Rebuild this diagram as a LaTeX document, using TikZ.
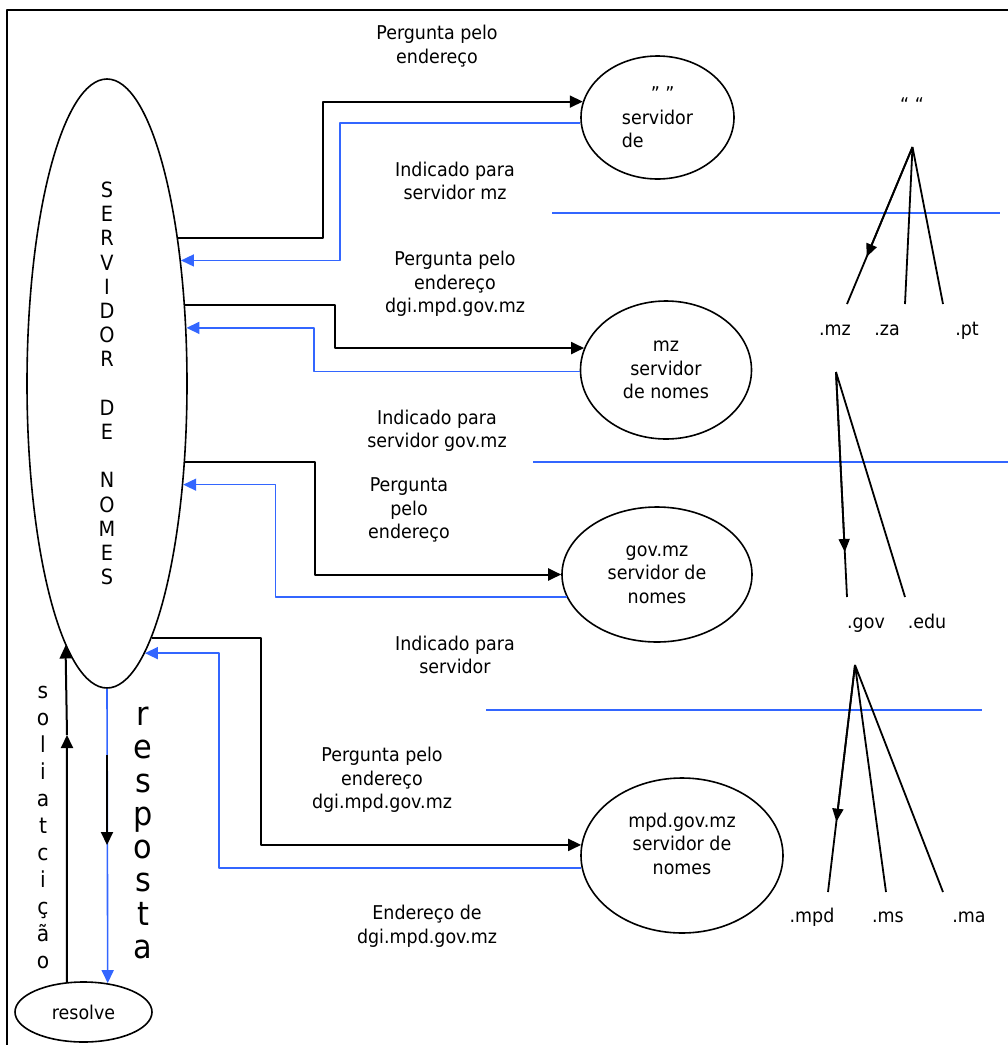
\documentclass[tikz,border=0pt]{standalone}
\usepackage{fontspec}
\setmainfont{DejaVu Sans}[FakeStretch=0.92]
\usetikzlibrary{shapes.geometric,arrows.meta,calc}
\definecolor{lineblue}{RGB}{51,102,255}
\tikzset{
  srvell/.style={draw,ellipse,line width=1.6pt,inner sep=0pt,align=center},
  ask/.style={draw=black,line width=2pt,-{Triangle[length=13pt,width=12pt]}},
  answer/.style={draw=lineblue,line width=1.6pt,-{Triangle[length=13pt,width=12pt]}},
  txt/.style={align=center,font=\fontsize{19}{23.5}\selectfont},
  dom/.style={anchor=base,font=\fontsize{19}{23.5}\selectfont},
  branch/.style={line width=1.8pt},
  sep/.style={draw=lineblue,line width=1.6pt}
}
\begin{document}
\begin{tikzpicture}[x=1pt,y=-1pt,line join=round]
\clip (0,0) rectangle (1008,1045);
\draw[line width=2pt] (7,10) rectangle (1020,1060);

% servidor de nomes local
\node[srvell,minimum width=160pt,minimum height=609pt,font=\fontsize{21}{24.2}\selectfont] (srv) at (107,383.5)
  {S\\E\\R\\V\\I\\D\\O\\R\\[24.2pt]D\\E\\[24.2pt]N\\O\\M\\E\\S};
\node[srvell,txt,minimum width=137pt,minimum height=60pt] (res) at (83.5,1012) {resolve};

% servidores consultados
\node[srvell,txt,align=left,minimum width=153pt,minimum height=123pt] (e1) at (657.5,117.5) {\hspace*{29pt}" "\\servidor\hspace*{10pt}\\de};
\node[srvell,txt,minimum width=171pt,minimum height=138pt] (e2) at (666,370) {mz\\servidor\\de nomes};
\node[srvell,txt,minimum width=190pt,minimum height=135pt] (e3) at (657,574.5) {gov.mz\\servidor de\\nomes};
\node[srvell,txt,minimum width=202pt,minimum height=155pt] (e4) at (682,855.5) {mpd.gov.mz\\servidor de\\nomes\\\mbox{}};

% textos
\node[txt] (q1) at (437,46) {Pergunta pelo\\endereço};
\node[txt] (i1) at (455,181) {Indicado para\\servidor mz};
\node[txt] (q2) at (455,284) {Pergunta pelo\\endereço\\dgi.mpd.gov.mz};
\node[txt] (i2) at (437,431) {Indicado para\\servidor gov.mz};
\node[txt] (q3) at (409,510) {Pergunta\\pelo\\endereço};
\node[txt] (i3) at (455,655) {Indicado para\\servidor};
\node[txt] (q4) at (382,780) {Pergunta pelo\\endereço\\dgi.mpd.gov.mz};
\node[txt] (a4) at (427,926) {Endereço de\\dgi.mpd.gov.mz};
\node[align=center,font=\fontsize{22}{27}\selectfont] (sol) at (43,827) {s\\o\\l\\i\\a\\t\\c\\i\\ç\\ã\\o};
\node[align=center,font=\fontsize{33}{33.3}\selectfont] (resp) at (143,833) {r\\e\\s\\p\\o\\s\\t\\a};

% perguntas e respostas
\draw[ask] (srv.64.4) -- ++(144.9,0) |- (e1.168.2);
\draw[answer] (e1.184.9) -- ++(-240.4,0) |- (srv.59.85);
\draw[ask] (srv.45.44) -- ++(149.7,0) |- (e2.165.5);
\draw[answer] (e2.181.4) -- ++(-265.5,0) |- (srv.35.7);
\draw[ask] (srv.-45.44) -- ++(129.7,0) |- (e3.180);
\draw[answer] (e3.194.8) -- ++(-290.9,0) |- (srv.-53.4);
\draw[ask] (srv.-80.8) -- ++(109.1,0) |- (e4.174.6);
\draw[answer] (e4.187.1) -- ++(-362.3,0) |- (srv.-82.8);

% solicitacao e resposta
\coordinate (upmid) at (67,735);
\coordinate (dn1) at (107,755);
\coordinate (dn2) at (107,845);
\draw[ask] (res.119.6) -- (upmid);
\draw[ask] (upmid) -- (srv.261.4);
\draw[answer] (srv.south) -- (res.50.2);
\draw[ask] (dn1) -- (dn2);

% divisorias
\draw[sep] (552,213) -- (1000,213);
\draw[sep] (533,462) -- (1010,462);
\draw[sep] (486,710) -- (982,710);

% arvore de dominios
\node[txt] (root) at (912,105) {“ “};
\coordinate (t1) at (912.5,147);
\coordinate (mzt) at (847,304);
\coordinate (zat) at (905,304);
\coordinate (ptt) at (943,304);
\node[dom] (mz) at (835,335) {.mz};
\node[dom] (za) at (887,335) {.za};
\node[dom] (pt) at (967,335) {.pt};
\draw[branch] (t1) -- (mzt) (t1) -- (zat) (t1) -- (ptt);
\draw[branch,-{Triangle[length=13pt,width=11pt]}] (t1) -- ($(t1)!0.70!(mzt)$);

\coordinate (t2) at (836,372);
\coordinate (govt) at (847,597);
\coordinate (edut) at (905,597);
\node[dom] (gov) at (866,628) {.gov};
\node[dom] (edu) at (927,628) {.edu};
\draw[branch] (t2) -- (govt) (t2) -- (edut);
\draw[branch,-{Triangle[length=13pt,width=11pt]}] (t2) -- ($(t2)!0.80!(govt)$);

\coordinate (t3) at (855,665);
\coordinate (mpdt) at (828,892);
\coordinate (mst) at (886,892);
\coordinate (mat) at (943,892);
\node[dom] (mpd) at (812,922) {.mpd};
\node[dom] (ms) at (888,922) {.ms};
\node[dom] (ma) at (969,922) {.ma};
\draw[branch] (t3) -- (mpdt) (t3) -- (mst) (t3) -- (mat);
\draw[branch,-{Triangle[length=13pt,width=11pt]}] (t3) -- ($(t3)!0.69!(mpdt)$);
\end{tikzpicture}
\end{document}
